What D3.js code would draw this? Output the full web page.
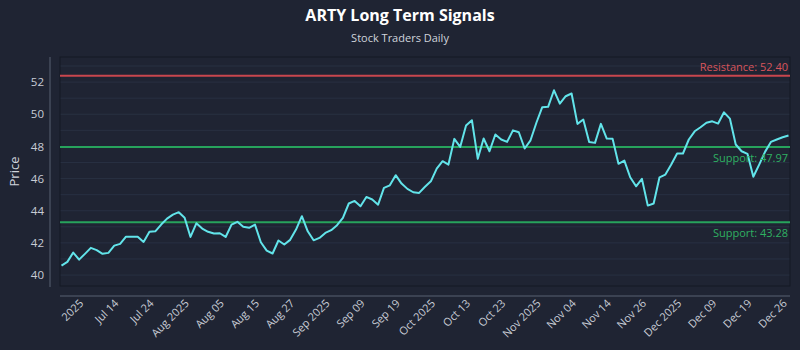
<!DOCTYPE html>
<html>
<head>
<meta charset="utf-8">
<script src="https://d3js.org/d3.v7.min.js"></script>
<style>
  body { margin: 0; background: #1f2433; }
  svg text { font-family: "Open Sans", "DejaVu Sans", sans-serif; }
</style>
</head>
<body>
<div id="chart"></div>
<script>
// closing prices, one per trading day
const prices = [
  40.59, 40.82, 41.40, 40.96, 41.32, 41.69, 41.55, 41.32, 41.38, 41.83,
  41.94, 42.39, 42.39, 42.38, 42.06, 42.69, 42.72, 43.14, 43.51, 43.76,
  43.91, 43.56, 42.37, 43.22, 42.89, 42.69, 42.58, 42.60, 42.37, 43.14,
  43.31, 43.00, 42.94, 43.14, 42.04, 41.52, 41.34, 42.15, 41.90, 42.19,
  42.83, 43.66, 42.72, 42.16, 42.31, 42.62, 42.79, 43.10, 43.56, 44.45,
  44.61, 44.28, 44.86, 44.70, 44.38, 45.42, 45.58, 46.21, 45.69, 45.36,
  45.15, 45.11, 45.49, 45.83, 46.62, 47.08, 46.87, 48.47, 47.97, 49.30,
  49.63, 47.23, 48.49, 47.70, 48.74, 48.43, 48.28, 49.00, 48.88, 47.87,
  48.38, 49.47, 50.44, 50.46, 51.49, 50.66, 51.12, 51.29, 49.40, 49.67,
  48.28, 48.22, 49.40, 48.49, 48.47, 46.92, 47.12, 46.08, 45.52, 45.98,
  44.32, 44.45, 46.08, 46.25, 46.87, 47.56, 47.56, 48.43, 48.94, 49.19,
  49.47, 49.56, 49.42, 50.12, 49.73, 48.12, 47.70, 47.54, 46.11, 46.87,
  47.66, 48.28, 48.43, 48.57, 48.68
];
const tickLabels = [
  "2025", "Jul 14", "Jul 24", "Aug 2025", "Aug 05", "Aug 15", "Aug 27",
  "Sep 2025", "Sep 09", "Sep 19", "Oct 2025", "Oct 13", "Oct 23",
  "Nov 2025", "Nov 04", "Nov 14", "Nov 26", "Dec 2025", "Dec 09",
  "Dec 19", "Dec 26"
];
const yTicks = [40, 42, 44, 46, 48, 50, 52];
const levels = [
  { name: "Resistance", value: 52.40, type: "res" },
  { name: "Support", value: 47.97, type: "sup" },
  { name: "Support", value: 43.28, type: "sup" }
];

const width = 800, height = 350;
const plot = { left: 60, right: 790, top: 57, bottom: 286 };
const colors = { res: "#c9464e", sup: "#27a35c" };
const labelColors = { res: "#d8545b", sup: "#2fb062" };

let svg = d3.select("#chart")
  .append("svg")
  .attr("width", width)
  .attr("height", height);

svg.append("rect")
  .attr("width", width).attr("height", height)
  .attr("fill", "#1f2433");

// title
svg.append("text")
  .attr("x", width / 2).attr("y", 21)
  .attr("text-anchor", "middle")
  .attr("fill", "#ffffff")
  .attr("font-size", 16)
  .attr("font-weight", "bold")
  .text("ARTY Long Term Signals");
svg.append("text")
  .attr("x", width / 2).attr("y", 42)
  .attr("text-anchor", "middle")
  .attr("fill", "#d0d4dc")
  .attr("font-size", 11)
  .text("Stock Traders Daily");

let x = d3.scaleLinear()
  .domain([0, prices.length - 1])
  .range([plot.left + 1.5, plot.right - 1.5]);
let y = d3.scaleLinear()
  .domain([39.32, 53.56])
  .range([plot.bottom, plot.top]);

// grid
svg.append("g")
  .selectAll("line")
  .data(d3.range(40, 54, 1))
  .enter().append("line")
  .attr("x1", plot.left).attr("x2", plot.right)
  .attr("y1", d => y(d)).attr("y2", d => y(d))
  .attr("stroke", "#283042")
  .attr("stroke-width", 1);

// plot frame
svg.append("rect")
  .attr("x", plot.left).attr("y", plot.top)
  .attr("width", plot.right - plot.left)
  .attr("height", plot.bottom - plot.top)
  .attr("fill", "none")
  .attr("stroke", "#151925")
  .attr("stroke-width", 1);

// y axis, offset from the frame
let yAxis = svg.append("g")
  .attr("transform", "translate(50,0)")
  .call(d3.axisLeft(y).tickValues(yTicks).tickSize(0).tickPadding(6));
yAxis.select(".domain")
  .attr("d", `M0,${plot.top}V${plot.bottom + 1}`)
  .attr("stroke", "#596072");
yAxis.selectAll("text")
  .attr("fill", "#c8ccd6")
  .attr("font-size", 11.5);

svg.append("text")
  .attr("transform", `translate(19,${(plot.top + plot.bottom) / 2}) rotate(-90)`)
  .attr("text-anchor", "middle")
  .attr("fill", "#d0d4dc")
  .attr("font-size", 13)
  .text("Price");

// x axis
let tickPos = tickLabels.map((d, i) => 3.6 + i * 6);
let xAxis = svg.append("g")
  .attr("transform", "translate(0,296)")
  .call(d3.axisBottom(x).tickValues(tickPos)
    .tickFormat((d, i) => tickLabels[i]).tickSize(0).tickPadding(0));
xAxis.select(".domain")
  .attr("d", `M${plot.left},0H${plot.right}`)
  .attr("stroke", "#596072");
xAxis.selectAll("text")
  .attr("fill", "#c8ccd6")
  .attr("font-size", 11)
  .attr("text-anchor", "end")
  .attr("dy", null)
  .attr("y", 0)
  .attr("transform", "translate(1,8) rotate(-45)");

// support / resistance lines
svg.append("g")
  .selectAll("line")
  .data(levels)
  .enter().append("line")
  .attr("x1", plot.left).attr("x2", plot.right)
  .attr("y1", d => y(d.value)).attr("y2", d => y(d.value))
  .attr("stroke", d => colors[d.type])
  .attr("stroke-width", 2);

// price line
svg.append("path")
  .datum(prices)
  .attr("fill", "none")
  .attr("stroke", "#62e4ea")
  .attr("stroke-width", 2)
  .attr("stroke-linejoin", "round")
  .attr("d", d3.line().x((d, i) => x(i)).y(d => y(d)));

// level labels
svg.append("g")
  .selectAll("text")
  .data(levels)
  .enter().append("text")
  .attr("x", plot.right - 2)
  .attr("y", d => d.type === "res" ? y(d.value) - 5 : y(d.value) + 15)
  .attr("text-anchor", "end")
  .attr("fill", d => labelColors[d.type])
  .attr("font-size", 11)
  .text(d => d.name + ": " + d.value.toFixed(2));
</script>
</body>
</html>
